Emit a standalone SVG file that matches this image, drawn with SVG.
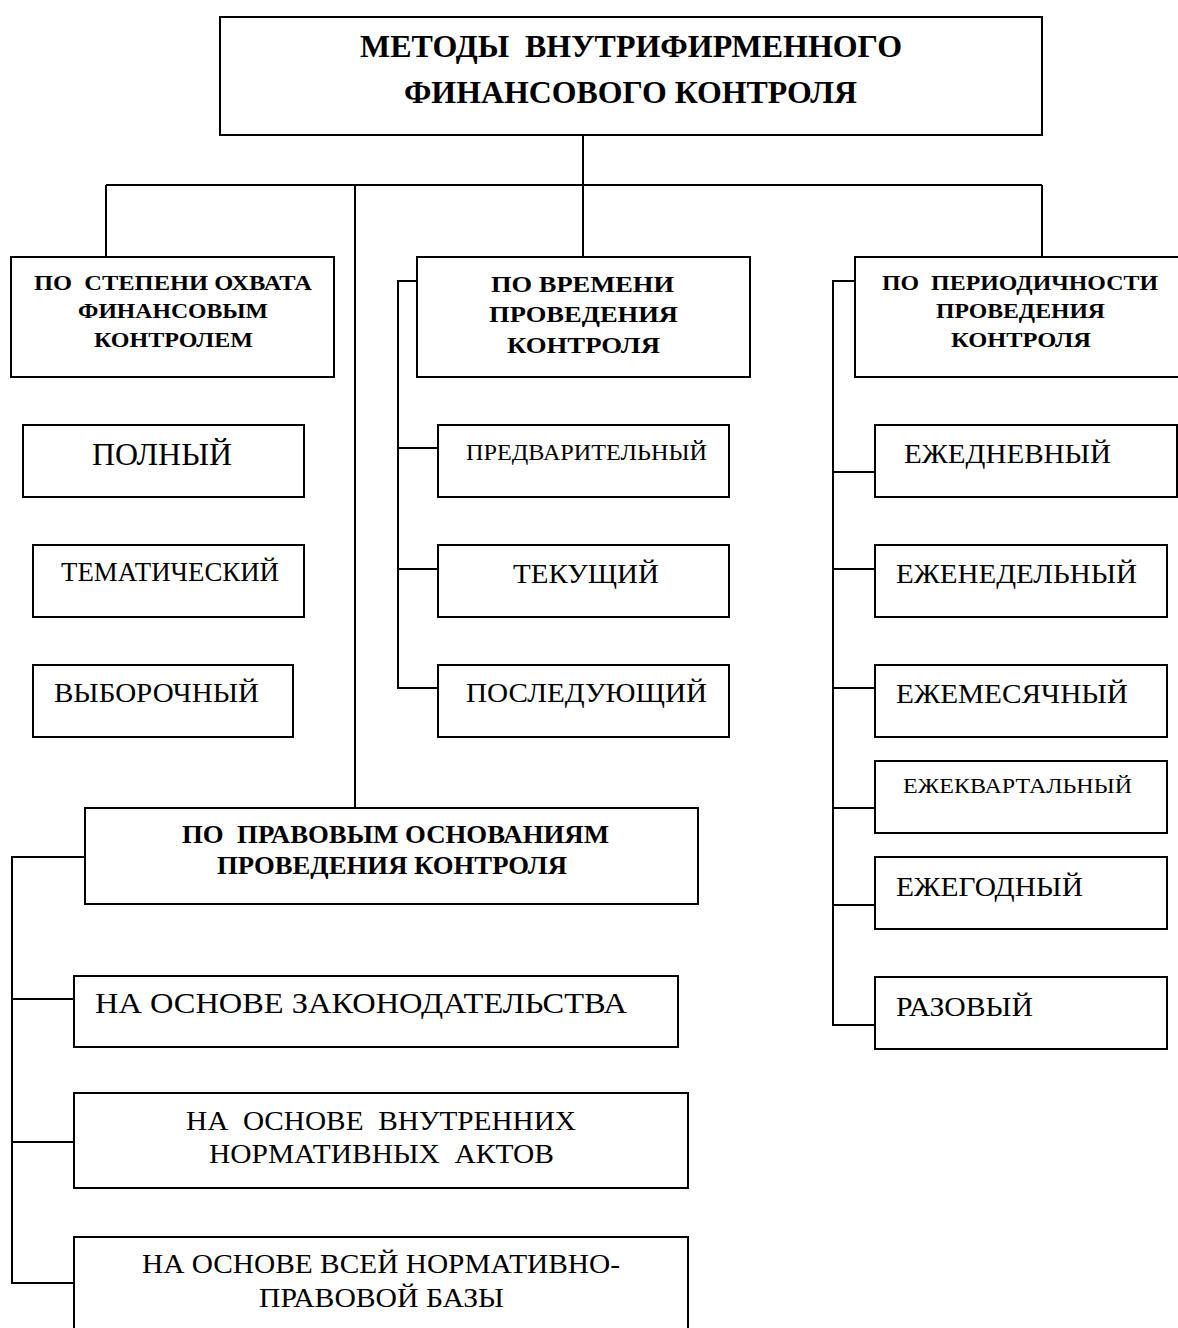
<svg xmlns="http://www.w3.org/2000/svg" width="1178" height="1328" viewBox="0 0 1178 1328" xml:space="preserve">
<style>
rect.b{fill:#fff;stroke:#000;stroke-width:2}
.c line,.c path{stroke:#000;stroke-width:2;fill:none}
text{font-family:"Liberation Serif","Times New Roman",serif;fill:#000;white-space:pre}
.h{font-weight:bold}
</style>
<rect width="1178" height="1328" fill="#fff"/>
<g class="c" id="connectors">
<line x1="583" y1="135" x2="583" y2="257"/>
<line x1="106" y1="185" x2="1042" y2="185"/>
<line x1="106" y1="185" x2="106" y2="257"/>
<line x1="355" y1="185" x2="355" y2="808"/>
<line x1="1042" y1="185" x2="1042" y2="257"/>
<path d="M417 281 H398 V688 H438"/>
<line x1="398" y1="448" x2="438" y2="448"/>
<line x1="398" y1="569" x2="438" y2="569"/>
<path d="M855 281 H833 V1025 H875"/>
<line x1="833" y1="472" x2="875" y2="472"/>
<line x1="833" y1="569" x2="875" y2="569"/>
<line x1="833" y1="688" x2="875" y2="688"/>
<line x1="833" y1="808" x2="875" y2="808"/>
<line x1="833" y1="905" x2="875" y2="905"/>
<path d="M85 857 H12 V1283 H74"/>
<line x1="12" y1="999" x2="74" y2="999"/>
<line x1="12" y1="1142" x2="74" y2="1142"/>
</g>
<g id="root">
<rect class="b" x="220" y="17" width="822" height="118"/>
<text class="h" x="360" y="57" font-size="32" textLength="542" lengthAdjust="spacingAndGlyphs">МЕТОДЫ  ВНУТРИФИРМЕННОГО</text>
<text class="h" x="404" y="103" font-size="32" textLength="453" lengthAdjust="spacingAndGlyphs">ФИНАНСОВОГО КОНТРОЛЯ</text>
</g>
<g id="coverage">
<rect class="b" x="11" y="257" width="323" height="120"/>
<text class="h" x="34" y="290" font-size="20" textLength="278" lengthAdjust="spacingAndGlyphs">ПО  СТЕПЕНИ ОХВАТА</text>
<text class="h" x="78" y="318" font-size="20" textLength="190" lengthAdjust="spacingAndGlyphs">ФИНАНСОВЫМ</text>
<text class="h" x="94" y="347" font-size="20" textLength="159" lengthAdjust="spacingAndGlyphs">КОНТРОЛЕМ</text>
</g>
<g id="time">
<rect class="b" x="417" y="257" width="333" height="120"/>
<text class="h" x="491" y="292" font-size="24" textLength="183" lengthAdjust="spacingAndGlyphs">ПО ВРЕМЕНИ</text>
<text class="h" x="489" y="322" font-size="24" textLength="189" lengthAdjust="spacingAndGlyphs">ПРОВЕДЕНИЯ</text>
<text class="h" x="507" y="353" font-size="24" textLength="153" lengthAdjust="spacingAndGlyphs">КОНТРОЛЯ</text>
</g>
<g id="periodicity">
<rect class="b" x="855" y="257" width="325" height="120"/>
<text class="h" x="882" y="290" font-size="20" textLength="276" lengthAdjust="spacingAndGlyphs">ПО  ПЕРИОДИЧНОСТИ</text>
<text class="h" x="936" y="318" font-size="20" textLength="169" lengthAdjust="spacingAndGlyphs">ПРОВЕДЕНИЯ</text>
<text class="h" x="951" y="347" font-size="20" textLength="140" lengthAdjust="spacingAndGlyphs">КОНТРОЛЯ</text>
</g>
<g id="full">
<rect class="b" x="23" y="425" width="281" height="72"/>
<text x="92" y="465" font-size="31" textLength="140" lengthAdjust="spacingAndGlyphs">ПОЛНЫЙ</text>
</g>
<g id="thematic">
<rect class="b" x="33" y="545" width="271" height="72"/>
<text x="61" y="581" font-size="27" textLength="218" lengthAdjust="spacingAndGlyphs">ТЕМАТИЧЕСКИЙ</text>
</g>
<g id="selective">
<rect class="b" x="33" y="665" width="260" height="72"/>
<text x="54" y="702" font-size="28" textLength="205" lengthAdjust="spacingAndGlyphs">ВЫБОРОЧНЫЙ</text>
</g>
<g id="preliminary">
<rect class="b" x="438" y="425" width="291" height="72"/>
<text x="466" y="460" font-size="23" textLength="241" lengthAdjust="spacingAndGlyphs">ПРЕДВАРИТЕЛЬНЫЙ</text>
</g>
<g id="current">
<rect class="b" x="438" y="545" width="291" height="72"/>
<text x="513" y="583" font-size="28" textLength="146" lengthAdjust="spacingAndGlyphs">ТЕКУЩИЙ</text>
</g>
<g id="subsequent">
<rect class="b" x="438" y="665" width="291" height="72"/>
<text x="466" y="702" font-size="28" textLength="241" lengthAdjust="spacingAndGlyphs">ПОСЛЕДУЮЩИЙ</text>
</g>
<g id="daily">
<rect class="b" x="875" y="425" width="302" height="72"/>
<text x="904" y="463" font-size="28" textLength="207" lengthAdjust="spacingAndGlyphs">ЕЖЕДНЕВНЫЙ</text>
</g>
<g id="weekly">
<rect class="b" x="875" y="545" width="292" height="72"/>
<text x="896" y="583" font-size="28" textLength="241" lengthAdjust="spacingAndGlyphs">ЕЖЕНЕДЕЛЬНЫЙ</text>
</g>
<g id="monthly">
<rect class="b" x="875" y="665" width="292" height="72"/>
<text x="896" y="703" font-size="28" textLength="232" lengthAdjust="spacingAndGlyphs">ЕЖЕМЕСЯЧНЫЙ</text>
</g>
<g id="quarterly">
<rect class="b" x="875" y="761" width="292" height="72"/>
<text x="903" y="793" font-size="22" textLength="229" lengthAdjust="spacingAndGlyphs">ЕЖЕКВАРТАЛЬНЫЙ</text>
</g>
<g id="yearly">
<rect class="b" x="875" y="857" width="292" height="72"/>
<text x="896" y="896" font-size="28" textLength="187" lengthAdjust="spacingAndGlyphs">ЕЖЕГОДНЫЙ</text>
</g>
<g id="oneoff">
<rect class="b" x="875" y="977" width="292" height="72"/>
<text x="896" y="1016" font-size="28" textLength="137" lengthAdjust="spacingAndGlyphs">РАЗОВЫЙ</text>
</g>
<g id="legal">
<rect class="b" x="85" y="808" width="613" height="96"/>
<text class="h" x="182" y="843" font-size="25" textLength="427" lengthAdjust="spacingAndGlyphs">ПО  ПРАВОВЫМ ОСНОВАНИЯМ</text>
<text class="h" x="217" y="874" font-size="25" textLength="350" lengthAdjust="spacingAndGlyphs">ПРОВЕДЕНИЯ КОНТРОЛЯ</text>
</g>
<g id="legislation">
<rect class="b" x="74" y="976" width="604" height="71"/>
<text x="95" y="1013" font-size="29" textLength="532" lengthAdjust="spacingAndGlyphs">НА ОСНОВЕ ЗАКОНОДАТЕЛЬСТВА</text>
</g>
<g id="internal">
<rect class="b" x="74" y="1093" width="614" height="95"/>
<text x="186" y="1130" font-size="28" textLength="390" lengthAdjust="spacingAndGlyphs">НА  ОСНОВЕ  ВНУТРЕННИХ</text>
<text x="209" y="1163" font-size="28" textLength="345" lengthAdjust="spacingAndGlyphs">НОРМАТИВНЫХ  АКТОВ</text>
</g>
<g id="whole">
<rect class="b" x="74" y="1237" width="614" height="95"/>
<text x="142" y="1273" font-size="28" textLength="478" lengthAdjust="spacingAndGlyphs">НА ОСНОВЕ ВСЕЙ НОРМАТИВНО-</text>
<text x="259" y="1307" font-size="28" textLength="245" lengthAdjust="spacingAndGlyphs">ПРАВОВОЙ БАЗЫ</text>
</g>
</svg>
